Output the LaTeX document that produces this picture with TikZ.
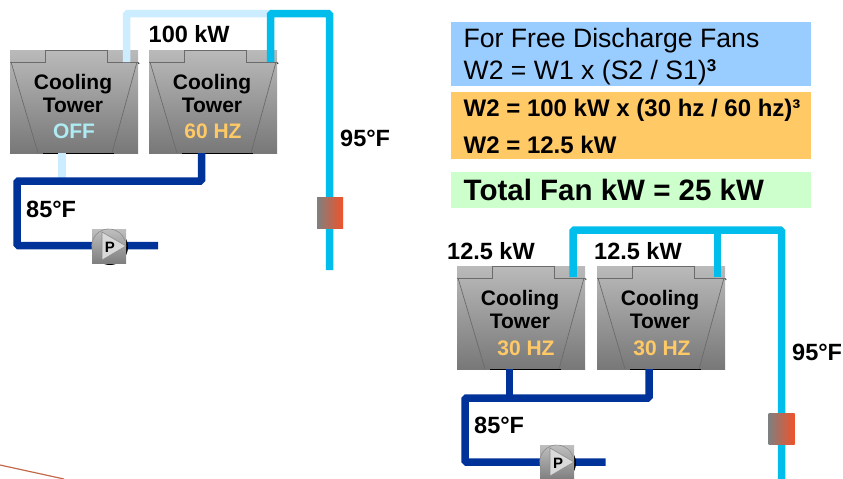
\documentclass[tikz,border=0pt]{standalone}
\usepackage{fontspec}
\setmainfont{Liberation Sans}
\definecolor{hotpipe}{HTML}{00BDEB}
\definecolor{offpipe}{HTML}{CCECFF}
\definecolor{coldpipe}{HTML}{003399}
\definecolor{hzcolor}{HTML}{FFC966}
\definecolor{offcolor}{HTML}{AEEBF2}
\definecolor{formulablue}{HTML}{99CCFF}
\definecolor{totalgreen}{HTML}{CCFFCC}
\definecolor{coilred}{HTML}{F0522A}
\definecolor{strayline}{HTML}{C4694A}
\tikzset{
	tower/.style={rectangle, minimum width=128pt, minimum height=103pt, inner sep=0pt, top color=black!27, bottom color=black!53},
	towerline/.style={line width=0.7pt, draw=black!58},
	towertext/.style={font=\bfseries\fontsize{21}{23}\selectfont, align=center, anchor=base},
	pipe/.style={line width=7.5pt, rounded corners=1.5pt},
	label/.style={font=\bfseries\fontsize{23.5}{26}\selectfont, anchor=base west, inner sep=0pt},
	infobox/.style={rectangle, minimum width=360pt, inner sep=0pt},
	coil/.style={rectangle, minimum width=26pt, minimum height=31pt, inner sep=0pt, left color=black!50, right color=coilred},
	pumpbox/.style={rectangle, minimum size=34pt, inner sep=0pt, top color=black!25, bottom color=black!50}
}
\begin{document}
\begin{tikzpicture}[x=1pt, y=-1pt]
	\useasboundingbox (0,0) rectangle (843,479);

	% stray line in the corner
	\coordinate (sl) at (0,465);
	\coordinate (sr) at (64,479);
	\path (sl) edge[line width=1.2pt, draw=strayline] (sr);

	% towers
	\foreach \name/\cx/\cy in {ta/74/101.5, tb/213/101.5, tc/521/317.5, td/661/317.5} {
		\node[tower] (\name) at (\cx,\cy) {};
		\begin{scope}[shift={(\cx,\cy)}]
			\draw[towerline] (-64,-39.5) -- (-29,-39.5) -- (-29,-51.5) -- (33,-51.5) -- (33,-39.5) -- (64,-39.5);
			\draw[towerline] (-63,-39.5) -- (-36,51.5);
			\draw[towerline] (63,-39.5) -- (38,51.5);
			\draw[line width=1.2pt] (-31,52) -- (40,52);
			\draw[line width=0.8pt] (64.5,-39) -- (65,-37.5);
		\end{scope}
		\node[towertext] (\name text) at (\cx-1,\cy+10.5) {Cooling\\Tower};
	}
	\node[towertext, text=offcolor] (tastate) at (74,138) {OFF};
	\node[towertext, text=hzcolor] (tbstate) at (213,138) {60 HZ};
	\node[towertext, text=hzcolor] (tcstate) at (526,355) {30 HZ};
	\node[towertext, text=hzcolor] (tdstate) at (662,355) {30 HZ};

	% pipes, left unit
	\coordinate (aout) at (126.5,62);
	\coordinate (aup) at (126.5,13.5);
	\coordinate (bout) at (270.5,62);
	\coordinate (bup) at (270.5,13.5);
	\coordinate (hotr) at (329.5,13.5);
	\coordinate (hotd) at (329.5,270);
	\coordinate (ain) at (62,153);
	\coordinate (aj) at (62,181);
	\coordinate (bin) at (201.5,153);
	\coordinate (bj) at (201.5,181);
	\coordinate (cl) at (17,181);
	\coordinate (cb) at (17,245.5);
	\coordinate (ce) at (158,245.5);
	\draw[pipe, offpipe] (aout) -- (aup) -- (bup);
	\draw[pipe, offpipe] (ain) -- (aj);
	\draw[pipe, hotpipe] (bout) -- (bup) -- (hotr) -- (hotd);
	\draw[pipe, coldpipe] (bin) -- (bj) -- (cl) -- (cb) -- (ce);

	% pipes, right unit
	\coordinate (cout) at (573,277);
	\coordinate (cup) at (573,230);
	\coordinate (dout) at (717.5,277);
	\coordinate (dup) at (717.5,230);
	\coordinate (hotrr) at (781.5,230);
	\coordinate (hotdd) at (781.5,479);
	\coordinate (cin) at (509.5,369);
	\coordinate (cj) at (509.5,398);
	\coordinate (din) at (649,369);
	\coordinate (dj) at (649,398);
	\coordinate (ccl) at (465,398);
	\coordinate (ccb) at (465,462);
	\coordinate (cce) at (605.5,462);
	\draw[pipe, hotpipe] (cout) -- (cup) -- (hotrr) -- (hotdd);
	\draw[pipe, hotpipe] (dout) -- (dup);
	\draw[pipe, coldpipe] (cin) -- (cj);
	\draw[pipe, coldpipe] (din) -- (dj) -- (ccl) -- (ccb) -- (cce);

	% coils
	\node[coil] (coila) at (330,212.5) {};
	\node[coil] (coilb) at (781.5,428.5) {};

	% pumps
	\foreach \name/\cx/\cy in {pa/109/246, pb/557/462} {
		\fill (\cx+1,\cy+1) circle (18);
		\node[pumpbox] (\name) at (\cx,\cy) {};
		\begin{scope}[shift={(\cx,\cy)}]
			\draw[line width=0.6pt, draw=black!45] (16,-5) arc (-17:-205:17);
			\draw[line width=0.6pt, draw=black!45, fill=black!15] (-7,-14) -- (17,0) -- (-7,14) -- cycle;
		\end{scope}
		\node[font=\bfseries\fontsize{15}{15}\selectfont, inner sep=0pt] (\name text) at (\cx+1,\cy+1) {P};
	}

	% text boxes
	\node[infobox, minimum height=64pt, fill=formulablue] (formula) at (631,54) {};
	\node[infobox, minimum height=67pt, fill=hzcolor] (calc) at (631,125.5) {};
	\node[infobox, minimum height=36pt, fill=totalgreen] (total) at (631,190) {};
	\node[font=\fontsize{26.6}{30}\selectfont, anchor=base west, inner sep=0pt] (fa) at (463.5,47.5) {For Free Discharge Fans};
	\node[font=\fontsize{26.6}{30}\selectfont, anchor=base west, inner sep=0pt] (fb) at (463.5,79.5) {W2 = W1 x (S2 / S1)\raisebox{8pt}{\bfseries\fontsize{17}{17}\selectfont 3}};
	\node[label, font=\bfseries\fontsize{24}{26}\selectfont] (ca) at (463.5,116) {W2 = 100 kW x (30 hz / 60 hz)³};
	\node[label, font=\bfseries\fontsize{24}{26}\selectfont] (cb2) at (463.5,153) {W2 = 12.5 kW};
	\node[label, font=\bfseries\fontsize{29.5}{32}\selectfont] (tt) at (463.5,200) {Total Fan kW = 25 kW};

	% labels
	\node[label] (pwra) at (148.5,42.5) {100 kW};
	\node[label] (tmpa) at (340,146) {95°F};
	\node[label] (tmpb) at (26,217) {85°F};
	\node[label] (pwrb) at (447,259) {12.5 kW};
	\node[label] (pwrc) at (594,259) {12.5 kW};
	\node[label] (tmpc) at (792,360.5) {95°F};
	\node[label] (tmpd) at (474,433) {85°F};
\end{tikzpicture}
\end{document}
